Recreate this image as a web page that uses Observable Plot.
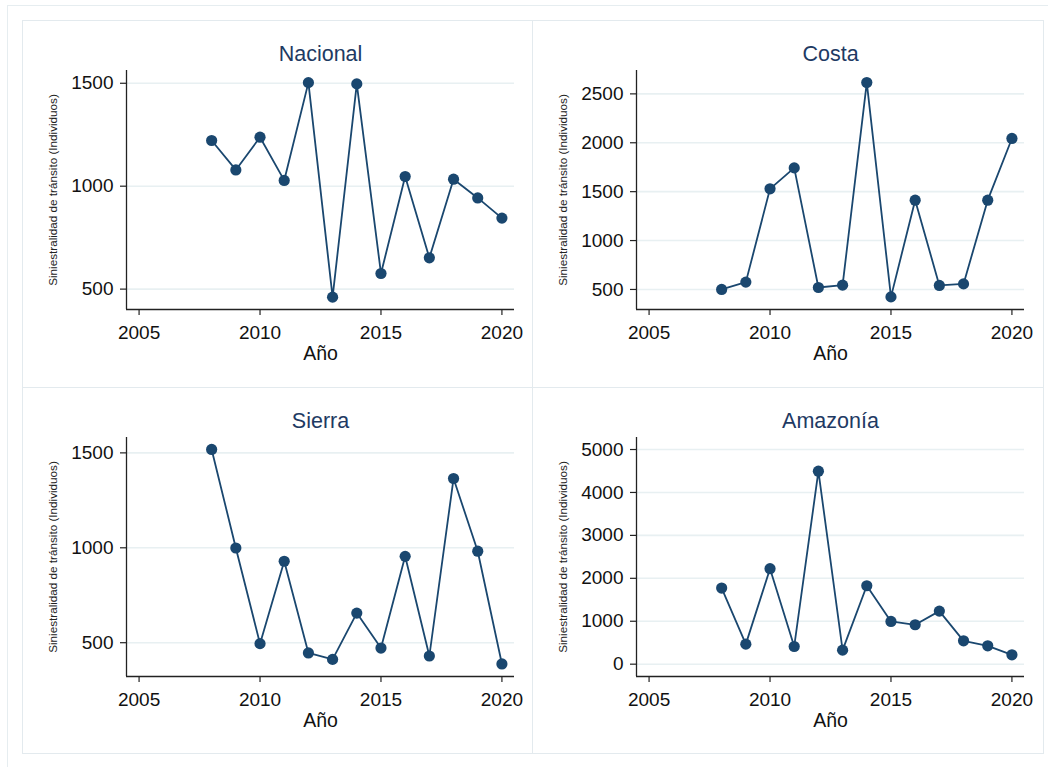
<!DOCTYPE html>
<html lang="es">
<head>
<meta charset="utf-8">
<title>Siniestralidad de tránsito por región</title>
<script src="https://cdn.jsdelivr.net/npm/d3@7"></script>
<script src="https://cdn.jsdelivr.net/npm/@observablehq/plot@0.6"></script>
<style>
  html, body { margin: 0; padding: 0; background: #fff; overflow: hidden; }
  #page { position: relative; width: 1048px; height: 767px; overflow: hidden; }
  #outer { position: absolute; left: 7px; top: 5px; right: -6px; bottom: -6px; border: 1px solid #e6edf0; }
  .panel { position: absolute; width: 510px; outline: 1px solid #e3eaee; background: #fff; }
  .panel svg { display: block; }
</style>
</head>
<body>
<div id="page">
  <div id="outer"></div>
</div>
<script>
// Annual road-accident victims by region, 2008–2020
const years    = [2008, 2009, 2010, 2011, 2012, 2013, 2014, 2015, 2016, 2017, 2018, 2019, 2020];
const nacional = [1222, 1079, 1238, 1028, 1503, 461, 1497, 576, 1047, 652, 1034, 943, 845];
const costa    = [500, 575, 1529, 1743, 520, 544, 2616, 424, 1413, 541, 557, 1413, 2044];
const sierra   = [1518, 999, 495, 929, 446, 412, 656, 472, 955, 430, 1365, 982, 388];
const amazonia = [1773, 467, 2224, 412, 4495, 327, 1827, 995, 918, 1236, 544, 428, 218];

const titles = ["Nacional", "Costa", "Sierra", "Amazonía"];
const yTickSets = [
  [500, 1000, 1500],
  [500, 1000, 1500, 2000, 2500],
  [500, 1000, 1500],
  [0, 1000, 2000, 3000, 4000, 5000]
];
const xTicks = [2005, 2010, 2015, 2020];
const yLabel = "Siniestralidad de tránsito (Individuos)";
const xLabel = "Año";

const series = [nacional, costa, sierra, amazonia];

const navy = "#1a476f";
const gridColor = "#e8f0f2";
const font = "'Liberation Sans', Arial, Helvetica, sans-serif";

// layout of the 2×2 combined graph
const layout = [
  {left: 23,  top: 21,  height: 367, marginBottom: 79, yDomain: [401, 1562]},
  {left: 533, top: 21,  height: 367, marginBottom: 79, yDomain: [295, 2739]},
  {left: 23,  top: 388, height: 365, marginBottom: 77, yDomain: [322, 1581]},
  {left: 533, top: 388, height: 365, marginBottom: 77, yDomain: [-287, 5280]}
];
const xDomain = [2004.48, 2020.52];

function panel(i) {
  const data = years.map((year, k) => ({year, value: series[i][k]}));
  const L = layout[i];
  return Plot.plot({
    width: 510,
    height: L.height,
    marginLeft: 103,
    marginRight: 19,
    marginTop: 49,
    marginBottom: L.marginBottom,
    style: {fontFamily: font, fontSize: "19px", color: "#111", background: "transparent", overflow: "visible"},
    x: {domain: xDomain, axis: null},
    y: {domain: L.yDomain, axis: null},
    marks: [
      Plot.gridY(yTickSets[i], {stroke: gridColor, strokeOpacity: 1, strokeWidth: 1.6}),
      Plot.axisY(yTickSets[i], {tickSize: 6, tickPadding: 7, tickFormat: d3.format("d"), stroke: "#222", strokeWidth: 1.2, label: null}),
      Plot.axisX(xTicks, {tickSize: 6, tickPadding: 10, tickFormat: d3.format("d"), stroke: "#222", strokeWidth: 1.2, label: null}),
      Plot.ruleX([xDomain[0]], {stroke: "#222", strokeWidth: 1.3}),
      Plot.ruleY([L.yDomain[0]], {stroke: "#222", strokeWidth: 1.3}),
      Plot.line(data, {x: "year", y: "value", stroke: navy, strokeWidth: 1.8}),
      Plot.dot(data, {x: "year", y: "value", r: 5.6, fill: navy, stroke: null}),
      // panel title, x-axis title and rotated y-axis title
      Plot.text([titles[i]], {frameAnchor: "top", lineAnchor: "middle", textAnchor: "middle", dy: -16, fontSize: 21.5, fill: "#1e3a63"}),
      Plot.text([xLabel], {frameAnchor: "bottom", lineAnchor: "middle", textAnchor: "middle", dy: 44, fontSize: 19.5, fill: "#111"}),
      Plot.text([yLabel], {frameAnchor: "left", lineAnchor: "middle", textAnchor: "middle", dx: -73, rotate: -90, fontSize: 11.7, fill: "#222"})
    ]
  });
}

const page = document.getElementById("page");
layout.forEach((L, i) => {
  const div = document.createElement("div");
  div.className = "panel";
  div.style.left = L.left + "px";
  div.style.top = L.top + "px";
  div.style.height = L.height + "px";
  div.appendChild(panel(i));
  page.appendChild(div);
});
</script>
</body>
</html>
